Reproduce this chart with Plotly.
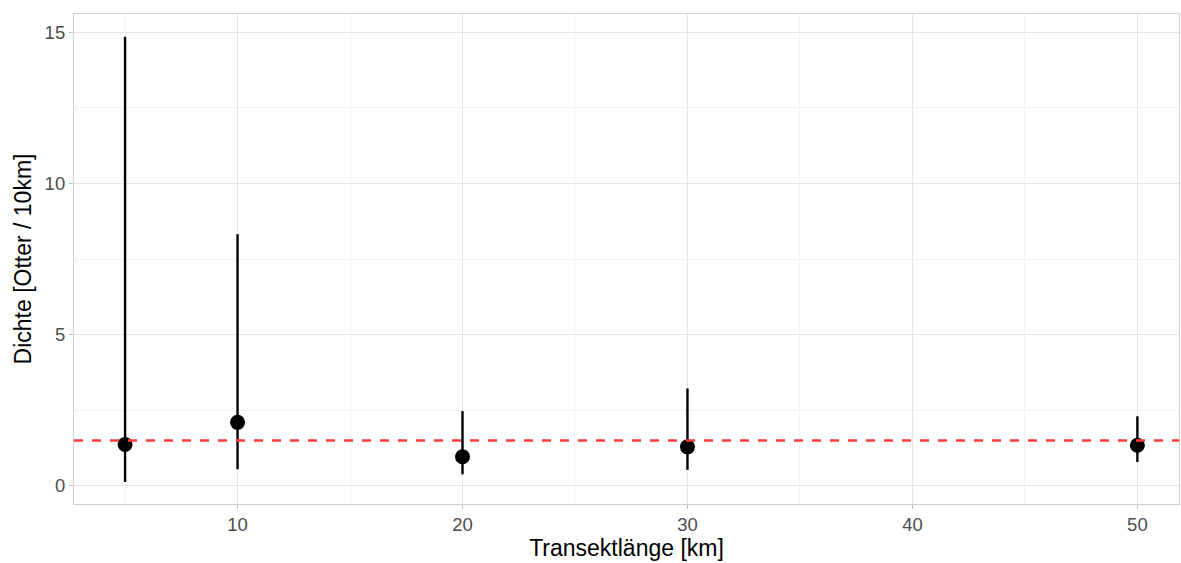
import plotly.graph_objects as go

# Data
transect_km = [5, 10, 20, 30, 50]
density_mean = [1.37, 2.10, 0.96, 1.29, 1.34]
density_lower = [0.13, 0.55, 0.38, 0.53, 0.79]
density_upper = [14.85, 8.32, 2.47, 3.22, 2.30]
reference_density = 1.5
x_ticks = [10, 20, 30, 40, 50]
y_ticks = [0, 5, 10, 15]

err_plus = [u - m for u, m in zip(density_upper, density_mean)]
err_minus = [m - l for m, l in zip(density_mean, density_lower)]

fig = go.Figure()
fig.add_trace(go.Scatter(
    x=transect_km, y=density_mean, mode="markers",
    marker=dict(color="black", size=15),
    error_y=dict(type="data", symmetric=False, array=err_plus, arrayminus=err_minus,
                 width=0, thickness=2.4, color="black"),
    showlegend=False, hoverinfo="skip",
))
fig.add_hline(y=reference_density, line=dict(color="#FF3B3B", width=2.4, dash="dash"))

font_family = "Liberation Sans, Arial, sans-serif"
axis_common = dict(
    showline=True, mirror=True, linecolor="#CFCFCF", linewidth=1.2,
    showgrid=True, gridcolor="#E6E6E6", gridwidth=1,
    ticks="outside", ticklen=4, tickcolor="#BDBDBD", tickwidth=1,
    tickfont=dict(family=font_family, size=18.5, color="#4D4D4D"),
    zeroline=False,
)

fig.update_xaxes(
    range=[2.73, 51.85], tickvals=x_ticks,
    minor=dict(tickvals=[5, 15, 25, 35, 45], showgrid=True, gridcolor="#F2F2F2", gridwidth=1, ticks=""),
    title=dict(text="Transektlänge [km]", font=dict(family=font_family, size=23, color="black"), standoff=2),
    **axis_common,
)
fig.update_yaxes(
    range=[-0.6, 15.6], tickvals=y_ticks,
    minor=dict(tickvals=[2.5, 7.5, 12.5], showgrid=True, gridcolor="#F2F2F2", gridwidth=1, ticks=""),
    title=dict(text="Dichte [Otter / 10km]", font=dict(family=font_family, size=23, color="black"), standoff=6),
    **axis_common,
)

fig.update_layout(
    width=1181, height=563,
    margin=dict(l=74, r=2, t=14, b=59),
    plot_bgcolor="white", paper_bgcolor="white",
    font=dict(family=font_family),
)

fig.write_html("out.html")
